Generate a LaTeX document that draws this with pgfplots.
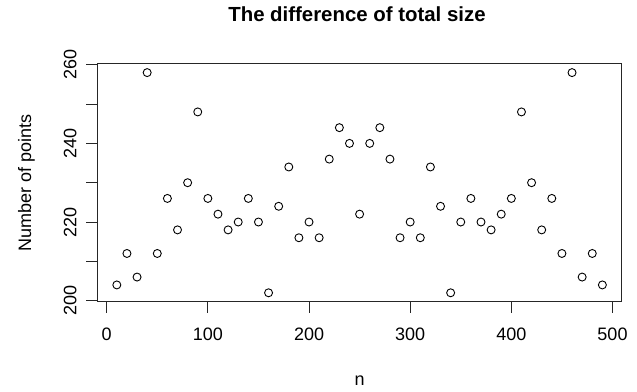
\documentclass[border=0pt]{standalone}
\usepackage{pgfplots}
\pgfplotsset{compat=1.18}
\usepackage{fontspec}
\setmainfont{Liberation Sans}
\begin{document}
\begin{tikzpicture}[x=1pt,y=1pt]
\useasboundingbox (0,0) rectangle (637,391);
\begin{axis}[
  at={(97.4pt,89.4pt)}, anchor=south west,
  scale only axis, width=524.4pt, height=237.8pt,
  xmin=-9.2, xmax=509.2, ymin=199.76, ymax=260.24,
  xtick={0,100,200,300,400,500},
  ytick={200,210,220,230,240,250,260},
  yticklabels={200,,220,,240,,260},
  tick align=outside, tick pos=left,
  major tick length=11pt,
  axis line style={line width=0.9pt, black!85},
  every tick/.style={line width=0.9pt, black!85},
  /pgf/number format/assume math mode=true,
  ticklabel style={font=\fontsize{18}{21}\selectfont},
  xticklabel style={anchor=base, yshift=-28pt},
  yticklabel style={anchor=base, xshift=-10pt, rotate=90},
  xlabel={n}, ylabel={Number of points},
  xlabel style={font=\fontsize{18}{21}\selectfont, at={(axis description cs:0.5,-0.3549)}, anchor=base},
  ylabel style={font=\fontsize{18}{21}\selectfont, at={(axis description cs:-0.1266,0.5)}, anchor=base, rotate=0},
  title={The difference of total size},
  title style={font=\fontsize{20.4}{24}\bfseries, at={(axis description cs:0.495,1.1506)}, anchor=base},
  clip=false,
]
\addplot[only marks, mark=o, mark size=4pt, mark options={line width=0.9pt, black}] coordinates {
(10,204) (20,212) (30,206) (40,258) (50,212) (60,226) (70,218) (80,230) (90,248) (100,226)
(110,222) (120,218) (130,220) (140,226) (150,220) (160,202) (170,224) (180,234) (190,216) (200,220)
(210,216) (220,236) (230,244) (240,240) (250,222) (260,240) (270,244) (280,236) (290,216) (300,220)
(310,216) (320,234) (330,224) (340,202) (350,220) (360,226) (370,220) (380,218) (390,222) (400,226)
(410,248) (420,230) (430,218) (440,226) (450,212) (460,258) (470,206) (480,212) (490,204)
};
\end{axis}
\end{tikzpicture}
\end{document}
